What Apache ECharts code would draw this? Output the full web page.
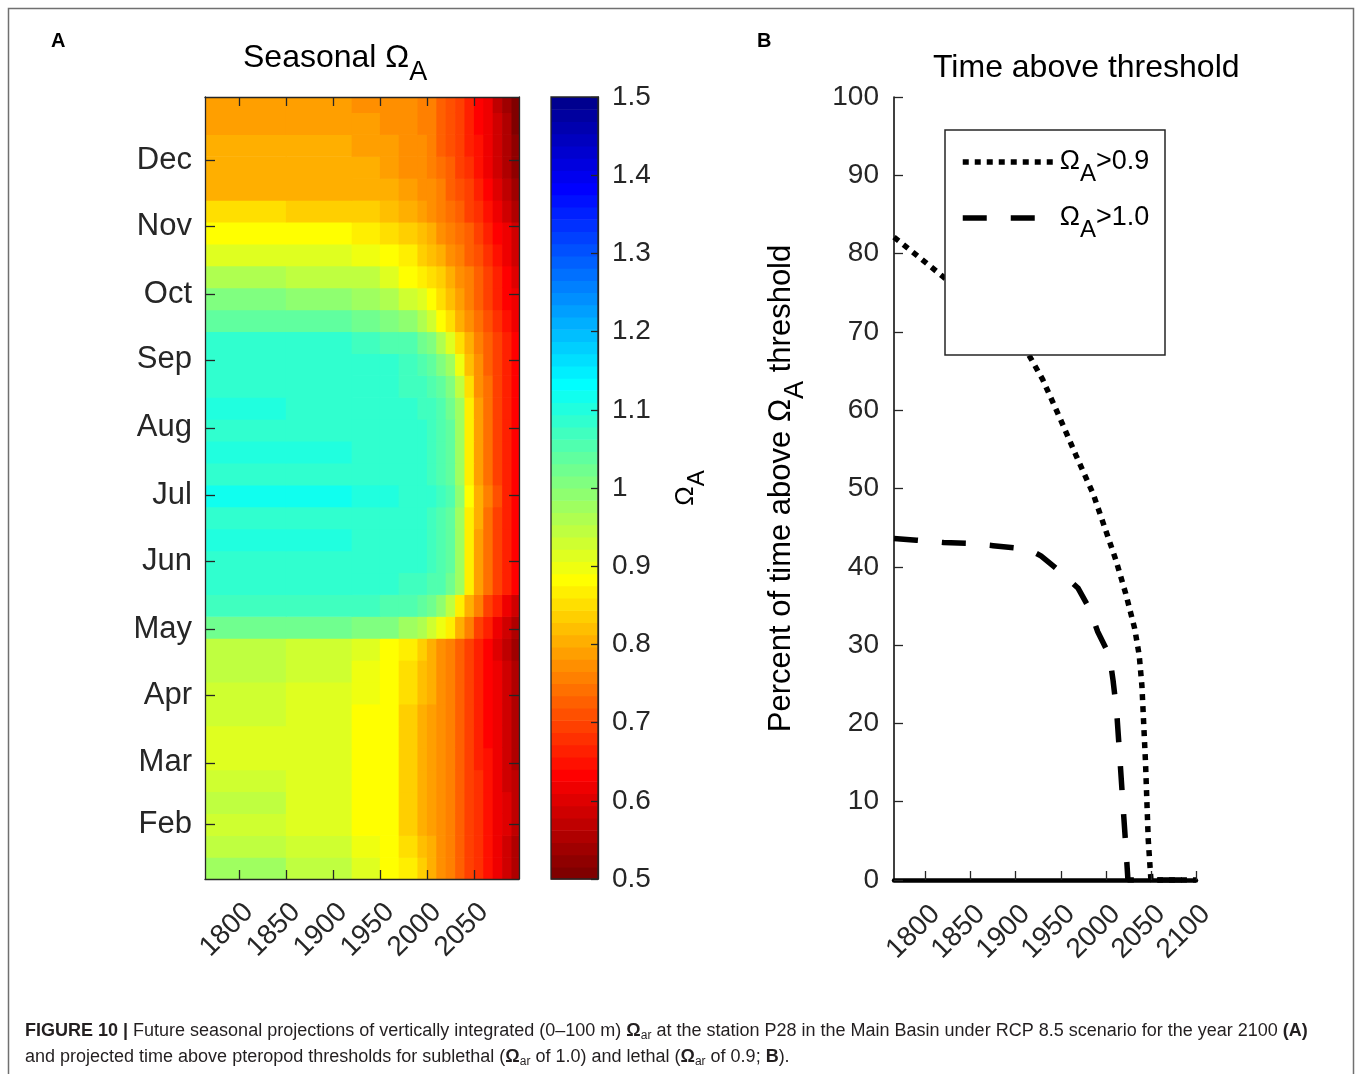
<!DOCTYPE html>
<html><head><meta charset="utf-8">
<script src="https://cdn.jsdelivr.net/npm/echarts@6/dist/echarts.min.js"></script>
<style>html,body{margin:0;padding:0;background:#fff}#c{width:1358px;height:1074px}</style>
</head><body><div id="c"></div>
<script>
// ---------------- DATA ----------------
// Panel A: seasonal aragonite saturation state (Omega_A)
const monthNames = ['Feb','Mar','Apr','May','Jun','Jul','Aug','Sep','Oct','Nov','Dec'];
const monthStartDays = [32,60,91,121,152,182,213,244,274,305,335];
const yearTicksA = [1800,1850,1900,1950,2000,2050];
const yearEdges = [1764,1850,1920,1950,1970,1990,2000,2010,2020,2030,2040,2050,2060,2070,2080,2090,2098];
const dayEdges = [7,17,27,37,47,57,67,77,87,97,107,117,127,137,147,157,167,177,187,197,207,217,227,237,247,257,267,277,287,297,307,317,327,337,347,357,364];
// rows from early January (bottom) to late December (top); columns follow yearEdges
const omegaRows = [
 [0.98,0.95,0.91,0.89,0.86,0.83,0.81,0.78,0.76,0.73,0.70,0.68,0.65,0.62,0.59,0.56],
 [0.95,0.93,0.90,0.88,0.85,0.82,0.80,0.78,0.75,0.73,0.70,0.68,0.65,0.62,0.59,0.56],
 [0.93,0.92,0.89,0.88,0.84,0.81,0.79,0.77,0.75,0.72,0.70,0.68,0.65,0.62,0.60,0.57],
 [0.94,0.92,0.89,0.88,0.84,0.81,0.79,0.77,0.75,0.72,0.70,0.68,0.65,0.62,0.60,0.57],
 [0.93,0.92,0.89,0.88,0.84,0.81,0.79,0.77,0.75,0.72,0.70,0.68,0.65,0.62,0.59,0.57],
 [0.92,0.91,0.89,0.88,0.84,0.81,0.79,0.77,0.75,0.72,0.70,0.67,0.65,0.62,0.59,0.56],
 [0.92,0.91,0.89,0.88,0.84,0.81,0.79,0.77,0.75,0.72,0.70,0.67,0.64,0.61,0.59,0.56],
 [0.93,0.92,0.89,0.88,0.84,0.81,0.79,0.77,0.75,0.72,0.70,0.67,0.64,0.61,0.58,0.56],
 [0.93,0.92,0.90,0.88,0.85,0.82,0.80,0.78,0.75,0.72,0.70,0.67,0.64,0.61,0.58,0.55],
 [0.94,0.93,0.90,0.88,0.85,0.82,0.80,0.78,0.75,0.72,0.70,0.67,0.64,0.61,0.58,0.55],
 [0.94,0.93,0.91,0.89,0.86,0.83,0.80,0.78,0.75,0.72,0.69,0.66,0.63,0.60,0.57,0.54],
 [1.02,1.02,1.01,1.00,0.98,0.96,0.93,0.90,0.86,0.80,0.75,0.70,0.66,0.62,0.58,0.55],
 [1.07,1.07,1.07,1.06,1.05,1.04,1.02,0.99,0.94,0.87,0.80,0.75,0.70,0.66,0.62,0.59],
 [1.08,1.08,1.08,1.08,1.07,1.07,1.06,1.05,1.03,0.97,0.86,0.79,0.74,0.70,0.66,0.63],
 [1.09,1.09,1.09,1.09,1.08,1.08,1.07,1.06,1.04,0.98,0.87,0.79,0.74,0.70,0.67,0.64],
 [1.10,1.10,1.09,1.09,1.08,1.08,1.07,1.06,1.04,0.98,0.87,0.79,0.74,0.70,0.67,0.64],
 [1.09,1.09,1.09,1.09,1.08,1.08,1.07,1.06,1.04,0.98,0.87,0.80,0.74,0.70,0.67,0.64],
 [1.11,1.11,1.10,1.10,1.09,1.09,1.08,1.07,1.05,0.99,0.88,0.80,0.75,0.71,0.67,0.64],
 [1.09,1.09,1.09,1.09,1.08,1.08,1.07,1.06,1.04,0.98,0.87,0.79,0.74,0.70,0.67,0.64],
 [1.10,1.10,1.09,1.09,1.08,1.08,1.07,1.06,1.04,0.98,0.87,0.79,0.74,0.70,0.67,0.64],
 [1.09,1.09,1.09,1.09,1.08,1.08,1.07,1.06,1.04,0.98,0.87,0.79,0.74,0.70,0.67,0.64],
 [1.10,1.09,1.09,1.09,1.08,1.07,1.07,1.06,1.03,0.97,0.86,0.79,0.74,0.70,0.67,0.64],
 [1.09,1.09,1.09,1.08,1.07,1.07,1.06,1.04,1.01,0.95,0.85,0.78,0.74,0.70,0.67,0.64],
 [1.09,1.09,1.08,1.08,1.07,1.06,1.04,1.01,0.97,0.90,0.82,0.77,0.73,0.70,0.67,0.64],
 [1.08,1.08,1.07,1.06,1.05,1.03,1.00,0.96,0.91,0.85,0.80,0.76,0.72,0.69,0.66,0.63],
 [1.04,1.04,1.03,1.01,0.99,0.96,0.93,0.89,0.85,0.81,0.77,0.74,0.71,0.68,0.65,0.62],
 [1.00,0.99,0.98,0.96,0.93,0.91,0.88,0.85,0.82,0.79,0.76,0.73,0.70,0.67,0.64,0.61],
 [0.96,0.95,0.94,0.92,0.89,0.87,0.85,0.83,0.80,0.77,0.75,0.72,0.69,0.66,0.63,0.60],
 [0.92,0.91,0.90,0.88,0.86,0.84,0.82,0.80,0.78,0.76,0.73,0.71,0.68,0.65,0.62,0.59],
 [0.89,0.88,0.87,0.85,0.83,0.82,0.80,0.78,0.76,0.74,0.72,0.70,0.67,0.64,0.61,0.58],
 [0.85,0.84,0.83,0.82,0.80,0.79,0.78,0.76,0.74,0.72,0.70,0.68,0.65,0.62,0.59,0.56],
 [0.81,0.81,0.80,0.80,0.79,0.78,0.77,0.75,0.73,0.71,0.69,0.66,0.63,0.60,0.57,0.54],
 [0.80,0.80,0.80,0.79,0.78,0.77,0.76,0.74,0.72,0.70,0.68,0.65,0.62,0.59,0.56,0.53],
 [0.80,0.80,0.79,0.79,0.78,0.77,0.75,0.73,0.71,0.69,0.67,0.65,0.62,0.58,0.55,0.52],
 [0.79,0.79,0.79,0.78,0.77,0.76,0.75,0.73,0.71,0.69,0.67,0.64,0.61,0.58,0.55,0.51],
 [0.79,0.79,0.78,0.78,0.77,0.76,0.75,0.73,0.71,0.69,0.66,0.64,0.61,0.57,0.54,0.51]
];
const colorbarRange = [0.5, 1.5];
const colorLevels = 64;

// Panel B: percent of time above threshold
const yearTicksB = [1800,1850,1900,1950,2000,2050,2100];
const dotYears = [1765,1790,1820,1850,1880,1910,1930,1949,1967,1986,2000,2011,2022,2032,2037,2040,2042,2044,2045.5,2047,2050,2100];
const dotPct   = [82.1,79.8,77.0,74.0,71.0,68.0,63.9,59.0,54.2,49.3,44.6,40.9,36.6,32.1,28.7,24.8,19.9,15.0,10.1,5.2,0,0];
const dashYears = [1765,1790,1820,1847,1875,1901,1915,1928,1948,1969,1982,1991,2004,2008,2012,2015,2019,2022.6,2024.5,2100];
const dashPct   = [43.6,43.4,43.1,43.0,42.7,42.4,42.2,41.4,39.5,37.3,34.6,31.7,28.7,25.5,21.5,16.5,9.6,3.5,0,0];

// ---------------- HELPERS ----------------
const FONT = "'Liberation Sans', Arial, Helvetica, sans-serif";
const AX = '#262626';
function clamp01(t){ return Math.max(0, Math.min(1, t)); }
function jetColor(v){
  let k = Math.floor((v - colorbarRange[0]) / (colorbarRange[1] - colorbarRange[0]) * colorLevels);
  k = Math.max(0, Math.min(colorLevels - 1, k));
  const x = 1 - k / colorLevels; // reversed jet
  const r = clamp01(1.5 - Math.abs(4*x - 3));
  const g = clamp01(1.5 - Math.abs(4*x - 2));
  const b = clamp01(1.5 - Math.abs(4*x - 1));
  return 'rgb(' + Math.round(r*255) + ',' + Math.round(g*255) + ',' + Math.round(b*255) + ')';
}
const heatData = [];
omegaRows.forEach((row, r) => {
  row.forEach((v, c) => heatData.push([yearEdges[c], yearEdges[c+1], dayEdges[r], dayEdges[r+1], v]));
});
const subRich = (main, sub, drop) => ({
  m: { fontSize: main, fontWeight: 'normal', fontFamily: FONT, color: '#000', lineHeight: main + 6 },
  s: { fontSize: sub, fontWeight: 'normal', fontFamily: FONT, color: '#000', lineHeight: main + 6, padding: [drop * 2, 0, 0, 0] }
});
const plainNum = v => String(Math.round(v));

const nameDot = 'Ω_A>0.9';
const nameDash = 'Ω_A>1.0';

const chart = echarts.init(document.getElementById('c'), null, { renderer: 'canvas' });
const lineAxis = { show: true, onZero: false, lineStyle: { color: AX, width: 1.3 } };
const noLabel = { show: false };

const option = {
  backgroundColor: '#fff',
  animation: false,
  textStyle: { fontFamily: FONT },
  title: [
    { text: 'A', left: 46, top: 26, textStyle: { fontSize: 20, fontWeight: 'bold', color: '#000', fontFamily: FONT } },
    { text: 'B', left: 752, top: 26, textStyle: { fontSize: 20, fontWeight: 'bold', color: '#000', fontFamily: FONT } },
    { text: '{m|Seasonal Ω}{s|A}', left: 238, top: 34, textStyle: { rich: subRich(32, 27, 15) } },
    { text: 'Time above threshold', left: 928, top: 47, textStyle: { fontSize: 32, fontWeight: 'normal', color: '#000', fontFamily: FONT } }
  ],
  grid: [
    { left: 205, top: 97, width: 314, height: 782 },
    { left: 551, top: 97, width: 47, height: 782, show: true, z: 10, backgroundColor: 'rgba(0,0,0,0)', borderColor: AX, borderWidth: 1.3 },
    { left: 894, top: 97, width: 302, height: 783 }
  ],
  xAxis: [
    { gridIndex: 0, type: 'value', min: 1764, max: 2098, position: 'bottom', z: 10,
      axisLine: lineAxis, splitLine: { show: false },
      axisTick: { inside: true, length: 9, customValues: yearTicksA, lineStyle: { color: AX, width: 1.3 } },
      axisLabel: { customValues: yearTicksA, formatter: plainNum, rotate: 45, fontSize: 28, color: AX, verticalAlign: 'top', margin: 19, fontFamily: FONT } },
    { gridIndex: 0, type: 'value', min: 1764, max: 2098, position: 'top', z: 10,
      axisLine: lineAxis, splitLine: { show: false },
      axisTick: { inside: true, length: 9, customValues: yearTicksA, lineStyle: { color: AX, width: 1.3 } },
      axisLabel: noLabel },
    { gridIndex: 1, type: 'value', min: 0, max: 1, show: false },
    { gridIndex: 2, type: 'value', min: 1765, max: 2100, position: 'bottom', z: 10,
      axisLine: { show: true, onZero: false, lineStyle: { color: '#000', width: 4.5 } }, splitLine: { show: false },
      axisTick: { inside: true, length: 9, customValues: yearTicksB, lineStyle: { color: AX, width: 1.3 } },
      axisLabel: { customValues: yearTicksB, formatter: plainNum, rotate: 45, fontSize: 28, color: AX, verticalAlign: 'top', margin: 20, fontFamily: FONT } }
  ],
  yAxis: [
    { gridIndex: 0, type: 'value', min: 7, max: 364, position: 'left', z: 10,
      axisLine: lineAxis, splitLine: { show: false },
      axisTick: { inside: true, length: 10, customValues: monthStartDays, lineStyle: { color: AX, width: 1.3 } },
      axisLabel: { customValues: monthStartDays, fontSize: 31, color: AX, margin: 13, fontFamily: FONT,
        formatter: v => monthNames[monthStartDays.indexOf(Math.round(v))] || '' } },
    { gridIndex: 0, type: 'value', min: 7, max: 364, position: 'right', z: 10,
      axisLine: lineAxis, splitLine: { show: false },
      axisTick: { inside: true, length: 10, customValues: monthStartDays, lineStyle: { color: AX, width: 1.3 } },
      axisLabel: noLabel },
    { gridIndex: 1, type: 'value', min: 0.5, max: 1.5, interval: 0.1, position: 'right', z: 11,
      axisLine: lineAxis, splitLine: { show: false },
      axisTick: { inside: true, length: 7, lineStyle: { color: AX, width: 1.3 } },
      axisLabel: { fontSize: 28, color: AX, margin: 14, fontFamily: FONT },
      name: '{m|Ω}{s|A}', nameLocation: 'middle', nameRotate: 90, nameGap: 72,
      nameTextStyle: { rich: subRich(26, 24, 11) } },
    { gridIndex: 2, type: 'value', min: 0, max: 100, interval: 10, position: 'left', z: 10,
      axisLine: { show: true, onZero: false, lineStyle: { color: '#000', width: 1.5 } }, splitLine: { show: false },
      axisTick: { inside: true, length: 9, lineStyle: { color: AX, width: 1.3 } },
      axisLabel: { fontSize: 28, color: AX, margin: 15, fontFamily: FONT },
      name: '{m|Percent of time above Ω}{s|A}{m| threshold}', nameLocation: 'middle', nameRotate: 90, nameGap: 94,
      nameTextStyle: { rich: subRich(31, 27, 14) } }
  ],
  legend: {
    orient: 'vertical', left: 955, top: 133, itemWidth: 92, itemHeight: 14, itemGap: 8, z: 110,
    selectedMode: false, data: [nameDot, nameDash],
    lineStyle: { width: 5.5 },
    itemStyle: { color: 'rgba(0,0,0,0)', borderWidth: 0, opacity: 0 },
    formatter: n => n === nameDot ? '{o|Ω}{s|A}{t|>0.9}' : '{o|Ω}{s|A}{t|>1.0}',
    textStyle: { color: '#000', fontFamily: FONT, fontSize: 27,
      rich: {
        o: { fontSize: 27, fontFamily: FONT, color: '#000', lineHeight: 30 },
        s: { fontSize: 24, fontFamily: FONT, color: '#000', lineHeight: 30, padding: [24, 0, 0, 0] },
        t: { fontSize: 27, fontFamily: FONT, color: '#000', lineHeight: 30 }
      } }
  },
  graphic: [
    { type: 'rect', z: 0, silent: true, shape: { x: 8.5, y: 8.5, width: 1345, height: 1100 },
      style: { fill: 'none', stroke: '#707070', lineWidth: 1.5 } },
    { type: 'rect', z: 100, silent: true, shape: { x: 945, y: 130, width: 220, height: 225 },
      style: { fill: '#fff', stroke: '#262626', lineWidth: 1.5 } },
    { type: 'text', left: 25, top: 1021, z: 100, silent: true,
      style: { text: '{b|FIGURE 10 | }{n|Future seasonal projections of vertically integrated (0–100 m) }{o|Ω}{s|ar}{n| at the station P28 in the Main Basin under RCP 8.5 scenario for the year 2100 }{b|(A)}',
        rich: {
          b: { fontSize: 18, fontWeight: 'bold', fontFamily: FONT, fill: '#231f20', lineHeight: 20 },
          n: { fontSize: 18, fontFamily: FONT, fill: '#231f20', lineHeight: 20 },
          o: { fontSize: 18, fontWeight: 'bold', fontFamily: FONT, fill: '#231f20', lineHeight: 20 },
          s: { fontSize: 12, fontFamily: FONT, fill: '#231f20', lineHeight: 20, padding: [9, 0, 0, 0] }
        } } },
    { type: 'text', left: 25, top: 1047, z: 100, silent: true,
      style: { text: '{n|and projected time above pteropod thresholds for sublethal (}{o|Ω}{s|ar}{n| of 1.0) and lethal (}{o|Ω}{s|ar}{n| of 0.9; }{b|B}{n|).}',
        rich: {
          b: { fontSize: 18, fontWeight: 'bold', fontFamily: FONT, fill: '#231f20', lineHeight: 20 },
          n: { fontSize: 18, fontFamily: FONT, fill: '#231f20', lineHeight: 20 },
          o: { fontSize: 18, fontWeight: 'bold', fontFamily: FONT, fill: '#231f20', lineHeight: 20 },
          s: { fontSize: 12, fontFamily: FONT, fill: '#231f20', lineHeight: 20, padding: [9, 0, 0, 0] }
        } } }
  ],
  series: [
    { type: 'custom', name: 'omega', coordinateSystem: 'cartesian2d', xAxisIndex: 0, yAxisIndex: 0, z: 1,
      data: heatData, encode: { x: [0, 1], y: [2, 3] }, clip: true, silent: true,
      renderItem: (params, api) => {
        const p0 = api.coord([api.value(0), api.value(3)]);
        const p1 = api.coord([api.value(1), api.value(2)]);
        return { type: 'rect', shape: { x: p0[0], y: p0[1], width: p1[0] - p0[0] + 0.7, height: p1[1] - p0[1] + 0.7 },
          style: { fill: jetColor(api.value(4)) } };
      } },
    { type: 'custom', name: 'colorbar', coordinateSystem: 'cartesian2d', xAxisIndex: 2, yAxisIndex: 2, z: 1,
      data: [[0, 1, colorbarRange[0], colorbarRange[1]]], encode: { x: [0, 1], y: [2, 3] }, silent: true,
      renderItem: (params, api) => {
        const lo = api.value(2), hi = api.value(3), children = [];
        for (let k = 0; k < colorLevels; k++) {
          const v0 = lo + (hi - lo) * k / colorLevels, v1 = lo + (hi - lo) * (k + 1) / colorLevels;
          const p0 = api.coord([api.value(0), v1]);
          const p1 = api.coord([api.value(1), v0]);
          children.push({ type: 'rect', shape: { x: p0[0], y: p0[1], width: p1[0] - p0[0], height: p1[1] - p0[1] + 0.6 },
            style: { fill: jetColor((v0 + v1) / 2) } });
        }
        return { type: 'group', children };
      } },
    { type: 'line', name: nameDot, xAxisIndex: 3, yAxisIndex: 3, symbol: 'none', z: 3,
      data: dotYears.map((y, i) => [y, dotPct[i]]),
      lineStyle: { color: '#000', width: 5.5, type: [6, 6], cap: 'butt' } },
    { type: 'line', name: nameDash, xAxisIndex: 3, yAxisIndex: 3, symbol: 'none', z: 3,
      data: dashYears.map((y, i) => [y, dashPct[i]]),
      lineStyle: { color: '#000', width: 5.5, type: [24, 24], cap: 'butt' } }
  ]
};
chart.setOption(option);
</script>
</body></html>
